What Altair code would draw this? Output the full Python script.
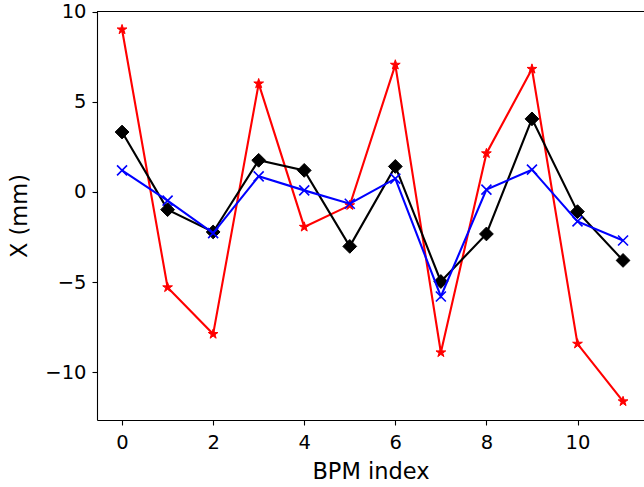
import altair as alt
import pandas as pd

bpm_index = list(range(12))
red_vals = [9.02, -5.30, -7.89, 6.02, -1.94, -0.74, 7.06, -8.91, 2.14, 6.83, -8.43, -11.63]
black_vals = [3.33, -0.98, -2.22, 1.76, 1.20, -3.02, 1.42, -4.97, -2.33, 4.06, -1.09, -3.80]
blue_vals = [1.20, -0.48, -2.28, 0.87, 0.09, -0.65, 0.74, -5.80, 0.13, 1.24, -1.63, -2.69]
x_ticks = [0, 2, 4, 6, 8, 10]
y_ticks = [-10, -5, 0, 5, 10]

df = pd.DataFrame({"idx": bpm_index, "red": red_vals, "black": black_vals, "blue": blue_vals})

STAR = ("M0,-1L0.2245,-0.309L0.951,-0.309L0.363,0.118L0.588,0.809L0,0.382"
        "L-0.588,0.809L-0.363,0.118L-0.951,-0.309L-0.2245,-0.309Z")
XMARK = "M-1,-1L1,1M1,-1L-1,1"

FONT = "DejaVu Sans"
xscale = alt.Scale(domain=[-0.55, 11.46], nice=False, zero=False)
yscale = alt.Scale(domain=[-12.66, 10.05], nice=False, zero=False)

xaxis = alt.Axis(values=x_ticks, format="d", title="BPM index", grid=False,
                 tickSize=5, tickColor="black", tickWidth=1.1,
                 domainColor="black", domainWidth=1.1,
                 labelFont=FONT, labelFontSize=19.5, labelColor="black", labelPadding=8,
                 titleFont=FONT, titleFontSize=22.5, titleFontWeight="normal",
                 titleColor="black", titlePadding=9)
yaxis = alt.Axis(values=y_ticks, format="d", title="X (mm)", grid=False,
                 tickSize=5, tickColor="black", tickWidth=1.1,
                 domainColor="black", domainWidth=1.1,
                 labelFont=FONT, labelFontSize=19.5, labelColor="black", labelPadding=6,
                 titleFont=FONT, titleFontSize=22.5, titleFontWeight="normal",
                 titleColor="black", titlePadding=13)

base = alt.Chart(df)

series = [
    ("red", "#ff0000", STAR, 105, True, 1.0),
    ("black", "#000000", "diamond", 190, True, 1.0),
    ("blue", "#0000ff", XMARK, 100, False, 1.6),
]

layers = []
for name, color, shape, size, filled, sw in series:
    enc_x = alt.X("idx:Q", scale=xscale, axis=xaxis)
    enc_y = alt.Y(f"{name}:Q", scale=yscale, axis=yaxis)
    line = base.mark_line(color=color, strokeWidth=2.1).encode(x=enc_x, y=enc_y)
    if filled:
        pts = base.mark_point(shape=shape, filled=True, color=color, size=size,
                              opacity=1, strokeWidth=sw, stroke=color).encode(x=enc_x, y=enc_y)
    else:
        pts = base.mark_point(shape=shape, filled=False, color=color, size=size,
                              opacity=1, strokeWidth=sw).encode(x=enc_x, y=enc_y)
    layers += [line, pts]

top_spine = alt.Chart(df).mark_rule(color="black", strokeWidth=1.1).encode(
    x=alt.value(0), x2=alt.value(560), y=alt.value(0.5)
)
layers.append(top_spine)

chart = alt.layer(*layers).properties(
    width=547, height=409,
    autosize=alt.AutoSizeParams(type="none"),
    padding={"left": 97, "top": 11, "right": 0, "bottom": 67},
    background="white",
).configure_view(stroke=None)

chart.save("out.html", embed_options={"renderer": "svg", "actions": False})
